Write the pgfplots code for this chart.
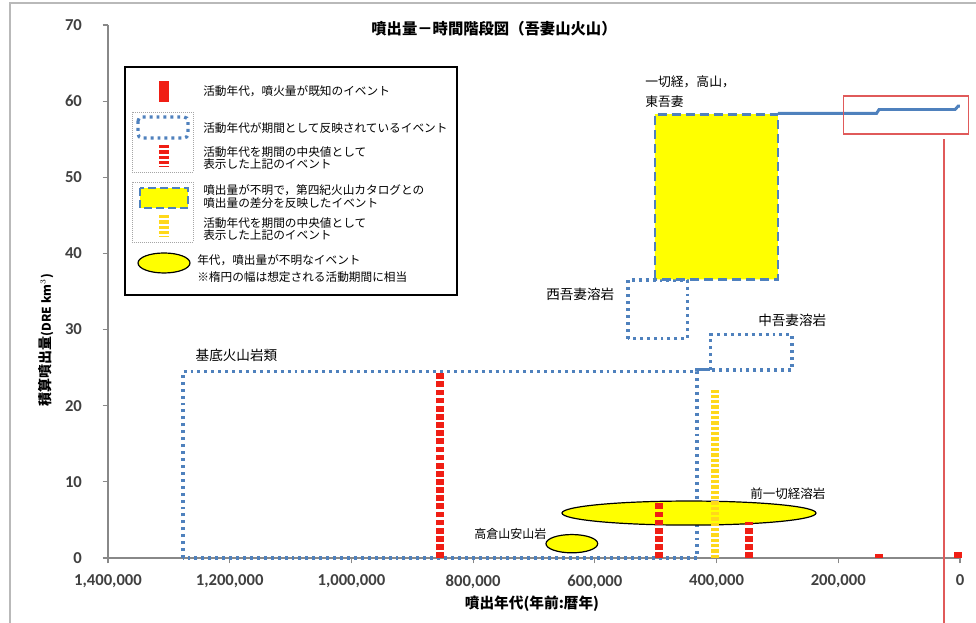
\documentclass[border=0pt]{standalone}
\usepackage{fontspec}
\setmainfont{Carlito}
\newfontfamily\jp{Noto Sans CJK JP}
\usepackage{pgfplots}
\pgfplotsset{compat=1.18}
\definecolor{exblue}{HTML}{4F81BD}
\definecolor{exred}{HTML}{F01E14}
\definecolor{boxred}{HTML}{E05A5A}
\definecolor{axgray}{HTML}{888888}
\definecolor{exyel}{HTML}{FFFF00}
\definecolor{baryel}{HTML}{FFD81A}
\tikzset{bdot/.style={exblue, line width=2.4pt, dash pattern=on 2.2pt off 3pt}}

\begin{document}
\begin{tikzpicture}
% page = 976 x 623 px, 1 px = 0.75pt, axis origin at px (108,558)
\useasboundingbox (-81pt,-48.75pt) rectangle (651pt,418.5pt);
\begin{axis}[
    at={(0,0)}, anchor=south west,
    scale only axis, width=639pt, height=399.75pt,
    xmin=0, xmax=1400000, ymin=0, ymax=70,
    x dir=reverse,
    axis x line*=bottom, axis y line*=left,
    axis line style={axgray, line width=0.9pt},
    xtick={0,200000,...,1400000}, ytick={0,10,...,70},
    scaled x ticks=false,
    xticklabel style={/pgf/number format/fixed, /pgf/number format/1000 sep={,}},
    /pgf/number format/assume math mode=true,
    tick style={axgray, line width=0.9pt},
    tick align=outside, major tick length=4pt,
    ticklabel style={font=\fontsize{12.5}{14}\selectfont\bfseries, text=black!75},
    xticklabel style={yshift=-5pt},
    yticklabel style={xshift=-12pt},
    clip=false,
]
% 基底火山岩類
\addplot[bdot] coordinates {
    (1276800,0) (1276800,24.5) (432200,24.5) (432200,0) (1276800,0)};
% 西吾妻溶岩
\addplot[bdot] coordinates {
    (545500,28.8) (545500,36.5) (447500,36.5) (447500,28.8) (545500,28.8)};
% 中吾妻溶岩
\addplot[bdot] coordinates {
    (410000,24.7) (410000,29.3) (276100,29.3) (276100,24.7) (410000,24.7)};
% 一切経・高山・東吾妻
\addplot[fill=exyel, draw=exblue, line width=2.2pt, dash pattern=on 7pt off 3.5pt] coordinates {
    (501200,36.6) (501200,58.3) (299100,58.3) (299100,36.6) (501200,36.6)};
% cumulative steps
\addplot[exblue, line width=2.2pt] coordinates {(432200,24.5) (432200,24.7) (410000,24.7)};
\addplot[exblue, line width=2.2pt] coordinates {
    (299100,58.4) (137000,58.4) (133000,58.9) (8000,58.9) (3000,59.35) (0,59.35)};
% ellipses: unknown age / volume
\addplot[fill=exyel, draw=black, line width=0.9pt, smooth cycle, tension=1] coordinates {
    (654000,5.9) (445300,7.48) (236600,5.9) (445300,4.32)};
\addplot[fill=exyel, draw=black, line width=0.9pt, smooth cycle, tension=1] coordinates {
    (680300,1.88) (637800,3.08) (595300,1.88) (637800,0.68)};
% mid-period bars
\addplot[exred, line width=6pt, dash pattern=on 4.3pt off 1.8pt] coordinates {(854500,0) (854500,24.5)};
\addplot[exred, line width=6pt, dash pattern=on 4.3pt off 1.8pt] coordinates {(494100,0) (494100,7.45)};
\addplot[exred, line width=6pt, dash pattern=on 4.3pt off 1.8pt] coordinates {(346700,0) (346700,4.7)};
\addplot[baryel, line width=6pt, dash pattern=on 2.6pt off 1.4pt] coordinates {(402100,0) (402100,22.1)};
% known events
\addplot[exred, line width=6.5pt] coordinates {(133000,0) (133000,0.5)};
\addplot[exred, line width=5.5pt] coordinates {(3300,0) (3300,0.75)};
% zoom box and leader
\addplot[boxred, line width=1.1pt] coordinates {
    (191800,55.7) (191800,60.65) (-13600,60.65) (-13600,55.7) (191800,55.7)};
\addplot[boxred, line width=1.1pt] coordinates {(26300,55.0) (26300,-12)};
\end{axis}

\begin{scope}[x=0.75pt, y=-0.75pt, xshift=-81pt, yshift=418.5pt]
% outer chart frame
\draw[gray!55, line width=1.2pt] (10,700) -- (10,3) -- (1000,3);
% title and axis labels
\node[font=\jp\bfseries\fontsize{11.5}{13}\selectfont] at (494,29) {噴出量－時間階段図（吾妻山火山）};
\node[font=\jp\bfseries\fontsize{11}{13}\selectfont] at (532,604) {噴出年代(年前:暦年)};
\node[font=\jp\bfseries\fontsize{10.5}{12}\selectfont, rotate=90] at (46,340) {積算噴出量{\fontsize{9}{11}\selectfont (DRE km$^{3}$)}};
% annotations
\node[font=\jp\fontsize{10.2}{12}\selectfont] at (236.5,355) {基底火山岩類};
\node[font=\jp\fontsize{10.2}{12}\selectfont, anchor=west, inner sep=0] at (758,320) {中吾妻溶岩};
\node[font=\jp\fontsize{10.2}{12}\selectfont, anchor=west, inner sep=0] at (546,294) {西吾妻溶岩};
\node[font=\jp\fontsize{9.6}{12}\selectfont, anchor=west, inner sep=0] at (645,82) {一切経，高山，};
\node[font=\jp\fontsize{9.6}{12}\selectfont, anchor=west, inner sep=0] at (645,101.5) {東吾妻};
\node[font=\jp\fontsize{9.4}{12}\selectfont, anchor=west, inner sep=0] at (750,494) {前一切経溶岩};
\node[font=\jp\fontsize{9}{12}\selectfont, anchor=west, inner sep=0] at (474,534) {高倉山安山岩};
% legend
\draw[black, line width=1.1pt, fill=white] (125,67) rectangle (457,295);
\fill[exred] (159,81) rectangle (169,102);
\draw[gray!70, line width=0.5pt, densely dotted] (132,112) rectangle (193,172);
\draw[bdot, rounded corners=3pt] (138,117) rectangle (188,138);
\draw[exred, line width=7.5pt, dash pattern=on 2.4pt off 1.6pt] (164,145) -- (164,167);
\draw[gray!70, line width=0.5pt, densely dotted] (132,182) rectangle (193,242);
\draw[fill=exyel, draw=exblue, line width=2.2pt, dash pattern=on 6pt off 3pt] (140,188) rectangle (188,208);
\draw[baryel, line width=7.5pt, dash pattern=on 2.4pt off 1.6pt] (164,215) -- (164,237);
\draw[fill=exyel, draw=black, line width=0.9pt] (164,263) ellipse [x radius=26, y radius=10];
\begin{scope}[every node/.style={font=\jp\fontsize{8.75}{11}\selectfont, anchor=west, inner sep=0}]
\node at (203,91.7) {活動年代，噴火量が既知のイベント};
\node at (203,128.3) {活動年代が期間として反映されているイベント};
\node at (203,151.7) {活動年代を期間の中央値として};
\node at (203,164) {表示した上記のイベント};
\node at (203,190) {噴出量が不明で，第四紀火山カタログとの};
\node at (203,202.7) {噴出量の差分を反映したイベント};
\node at (203,223) {活動年代を期間の中央値として};
\node at (203,235) {表示した上記のイベント};
\node at (197,260) {年代，噴出量が不明なイベント};
\node at (197,276.7) {※楕円の幅は想定される活動期間に相当};
\end{scope}
\end{scope}
\end{tikzpicture}
\end{document}
